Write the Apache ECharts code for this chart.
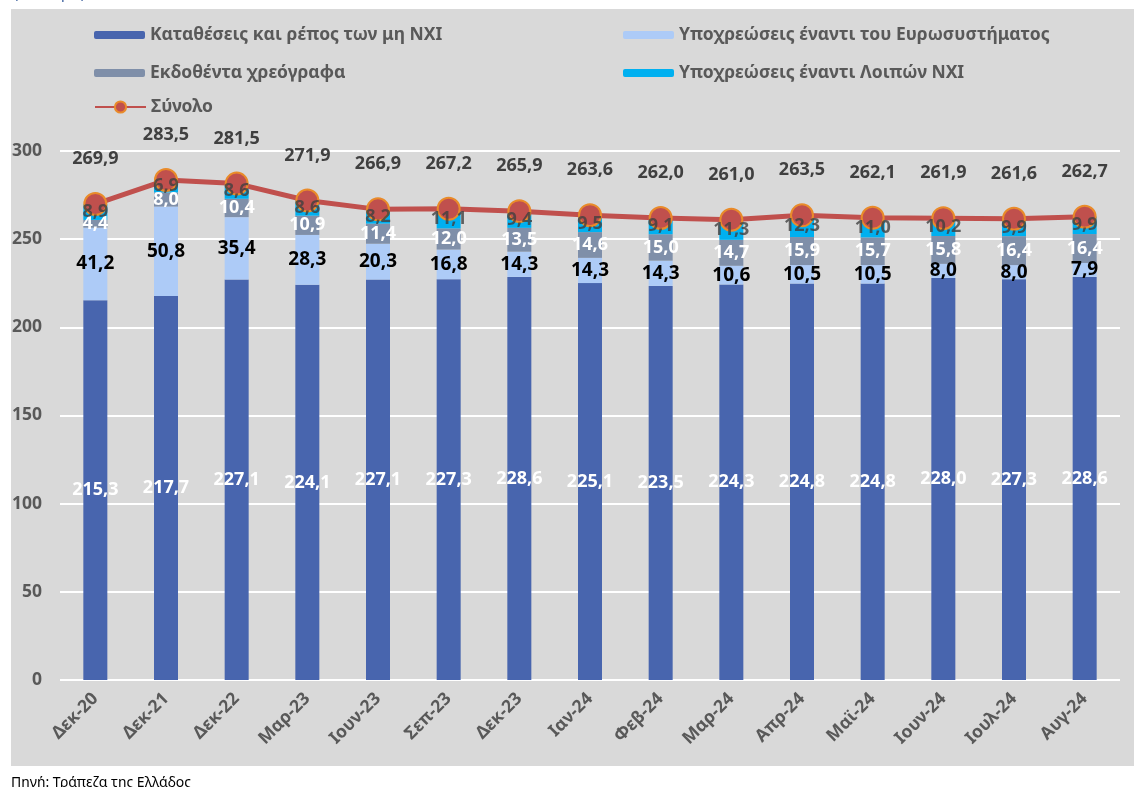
<!DOCTYPE html>
<html>
<head>
<meta charset="utf-8">
<script src="https://cdn.jsdelivr.net/npm/echarts@6/dist/echarts.min.js"></script>
<style>
  html, body { margin: 0; padding: 0; background: #fff; }
  #chart { width: 1134px; height: 787px; }
</style>
</head>
<body>
<div id="chart"></div>
<script>
const months = ['Δεκ-20', 'Δεκ-21', 'Δεκ-22', 'Μαρ-23', 'Ιουν-23', 'Σεπ-23', 'Δεκ-23', 'Ιαν-24',
  'Φεβ-24', 'Μαρ-24', 'Απρ-24', 'Μαϊ-24', 'Ιουν-24', 'Ιουλ-24', 'Αυγ-24'];
const deposits = [215.3, 217.7, 227.1, 224.1, 227.1, 227.3, 228.6, 225.1, 223.5, 224.3, 224.8, 224.8, 228.0, 227.3, 228.6];
const eurosystem = [41.2, 50.8, 35.4, 28.3, 20.3, 16.8, 14.3, 14.3, 14.3, 10.6, 10.5, 10.5, 8.0, 8.0, 7.9];
const securities = [4.4, 8.0, 10.4, 10.9, 11.4, 12.0, 13.5, 14.6, 15.0, 14.7, 15.9, 15.7, 15.8, 16.4, 16.4];
const otherMfi = [8.9, 6.9, 8.6, 8.6, 8.2, 11.1, 9.4, 9.5, 9.1, 11.3, 12.3, 11.0, 10.2, 9.9, 9.9];
const total = [269.9, 283.5, 281.5, 271.9, 266.9, 267.2, 265.9, 263.6, 262.0, 261.0, 263.5, 262.1, 261.9, 261.6, 262.7];
const yTicks = [0, 300, 50]; // min, max, step

const FONT = '"Noto Sans", sans-serif';
const fmt = p => p.value.toFixed(1).replace('.', ',');

function barLabel(color, size) {
  return { show: true, position: 'inside', formatter: fmt, color: color,
    fontFamily: FONT, fontWeight: 'bold', fontSize: size || 18 };
}

// labels of the top segment sit above the line markers, so they go on their own layer
const otherMid = otherMfi.map((v, i) => [i, deposits[i] + eurosystem[i] + securities[i] + v / 2, v]);

const names = ['Καταθέσεις και ρέπος των μη ΝΧΙ', 'Υποχρεώσεις έναντι του Ευρωσυστήματος',
  'Εκδοθέντα χρεόγραφα', 'Υποχρεώσεις έναντι Λοιπών ΝΧΙ', 'Σύνολο'];
const legendPos = [[89, 21], [618, 21], [89, 59], [618, 59], [89, 93]];

const chart = echarts.init(document.getElementById('chart'));
chart.setOption({
  backgroundColor: '#fff',
  animation: false,
  graphic: [
    { type: 'rect', left: 11, top: 9, shape: { width: 1123, height: 757 }, style: { fill: '#d9d9d9' }, z: -10 },
    { type: 'text', left: 11, top: 776, style: { text: 'Πηγή: Τράπεζα της Ελλάδος', fill: '#000', font: '14px ' + FONT } },
    { type: 'text', left: 14, top: -13, style: { text: '(δισ. ευρώ)', fill: '#2f5597', font: '14px ' + FONT } }
  ],
  legend: names.map((n, i) => ({
    data: [n], left: legendPos[i][0], top: legendPos[i][1],
    itemWidth: 51, itemHeight: i === 4 ? 14 : 8, itemGap: 5, selectedMode: false,
    textStyle: { color: '#595959', fontFamily: FONT, fontWeight: 'bold', fontSize: 17.5 }
  })),
  grid: { left: 60, right: 14, top: 151, bottom: 107, containLabel: false },
  xAxis: {
    type: 'category', data: months,
    axisLine: { show: false }, axisTick: { show: false },
    axisLabel: { rotate: 45, margin: 16, interval: 0, color: '#595959',
      fontFamily: FONT, fontWeight: 'bold', fontSize: 17.5 }
  },
  yAxis: {
    type: 'value', min: yTicks[0], max: yTicks[1], interval: yTicks[2],
    axisLine: { show: false }, axisTick: { show: false },
    splitLine: { lineStyle: { color: '#ffffff', width: 2 } },
    axisLabel: { margin: 18, color: '#595959', fontFamily: FONT, fontWeight: 'bold', fontSize: 17.5 }
  },
  series: [
    { name: names[0], type: 'bar', stack: 's', barWidth: 24, data: deposits,
      itemStyle: { color: '#4865ae' }, label: barLabel('#ffffff') },
    { name: names[1], type: 'bar', stack: 's', data: eurosystem,
      itemStyle: { color: '#adcbf7' }, label: barLabel('#000000', 19) },
    { name: names[2], type: 'bar', stack: 's', data: securities,
      itemStyle: { color: '#7f8fa9' }, label: barLabel('#ffffff') },
    { name: names[3], type: 'bar', stack: 's', data: otherMfi,
      itemStyle: { color: '#00b0f0' } },
    { name: names[4], type: 'line', data: total,
      lineStyle: { color: '#c0504d', width: 5 },
      symbol: 'circle', symbolSize: 22,
      itemStyle: { color: '#c0504d', borderColor: '#e98b2a', borderWidth: 2 },
      label: { show: true, position: 'top', distance: 24, formatter: fmt, color: '#404040',
        fontFamily: FONT, fontWeight: 'bold', fontSize: 18 } },
    { type: 'scatter', data: otherMid, symbolSize: 0, z: 10, silent: true,
      label: { show: true, position: 'inside', color: '#404040', fontFamily: FONT, fontWeight: 'bold', fontSize: 18,
        formatter: p => p.value[2].toFixed(1).replace('.', ',') } }
  ]
});
</script>
</body>
</html>
